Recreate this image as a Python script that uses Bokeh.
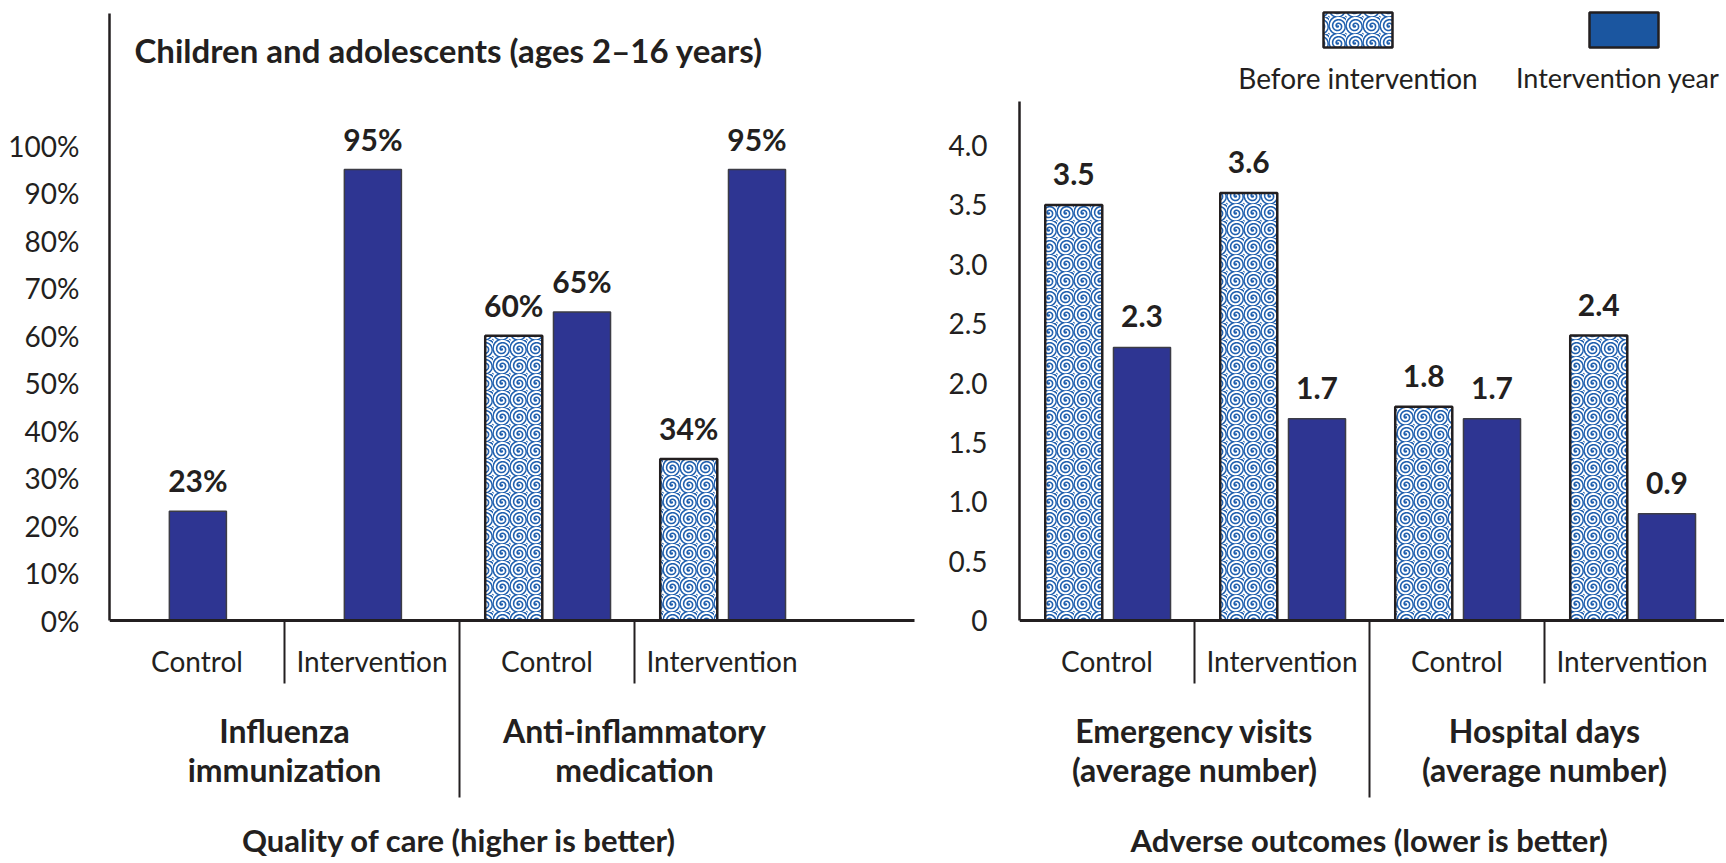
from bokeh.plotting import figure
from bokeh.models import ColumnDataSource, FixedTicker, Range1d, CustomJSTickFormatter
from bokeh.layouts import row
from bokeh.embed import file_html
from bokeh.resources import INLINE
from bokeh.core.properties import value

# ------------------------------------------------------------------ data
arms = ["Control", "Intervention"]
legend_labels = ["Before intervention", "Intervention year"]

left_title = "Children and adolescents (ages 2–16 years)"
left_footer = "Quality of care (higher is better)"
left_groups = ["Influenza\nimmunization", "Anti-inflammatory\nmedication"]
left_before = [None, None, 60, 34]
left_year = [23, 95, 65, 95]
left_ticks = [0, 10, 20, 30, 40, 50, 60, 70, 80, 90, 100]

right_footer = "Adverse outcomes (lower is better)"
right_groups = ["Emergency visits\n(average number)", "Hospital days\n(average number)"]
right_before = [3.5, 3.6, 1.8, 2.4]
right_year = [2.3, 1.7, 1.7, 0.9]
right_ticks = [0, 0.5, 1.0, 1.5, 2.0, 2.5, 3.0, 3.5, 4.0]

# ------------------------------------------------------------------ style
FONT = "Lato"
INK = "#231f20"
NAVY = "#2e3592"
SPECKLE = "#1f5fae"
KEY_BLUE = "#1b56a0"

H = 860          # canvas height
BASE = 620       # baseline position, px from canvas top
SLOT = 175       # px per sub-category slot
BAR_W = 0.326
DODGE = 0.195


def speckle(kw):
    kw.update(fill_color="white", hatch_pattern="spiral", hatch_color=SPECKLE,
              hatch_scale=17, hatch_weight=1.6, line_color=INK, line_width=2.5)
    return kw


def panel(width, border_left, ppu, axis_top, ticks, fmt_code, standoff,
          before, year, label_fmt, groups, footer, base_end_px):
    x_end = (width - border_left) / SLOT
    p = figure(width=width, height=H,
               x_range=Range1d(0, x_end),
               y_range=Range1d(-(H - BASE) / ppu, BASE / ppu),
               output_backend="svg", toolbar_location=None, x_axis_location=None,
               min_border_left=border_left, min_border_right=0,
               min_border_top=0, min_border_bottom=0)
    p.grid.visible = False
    p.outline_line_color = None
    p.background_fill_color = "white"
    p.border_fill_color = "white"

    ax = p.yaxis[0]
    ax.ticker = FixedTicker(ticks=ticks)
    ax.formatter = CustomJSTickFormatter(code=fmt_code)
    ax.bounds = (0, axis_top)
    ax.axis_line_color = INK
    ax.axis_line_width = 2.5
    ax.major_tick_line_color = None
    ax.minor_tick_line_color = None
    ax.major_label_standoff = standoff
    ax.major_label_text_font = FONT
    ax.major_label_text_font_size = "28px"
    ax.major_label_text_color = INK

    n = len(year)
    bx, bt, bl, yx, yt, yl = [], [], [], [], [], []
    for i in range(n):
        c = i + 0.505
        if before[i] is None:
            yx.append(c)
        else:
            bx.append(c - DODGE)
            bt.append(before[i])
            bl.append(label_fmt(before[i]))
            yx.append(c + DODGE)
        yt.append(year[i])
        yl.append(label_fmt(year[i]))

    lift = 31 / ppu
    bsrc = ColumnDataSource(dict(x=bx, top=bt, label=bl, ly=[t + lift for t in bt]))
    ysrc = ColumnDataSource(dict(x=yx, top=yt, label=yl, ly=[t + lift for t in yt]))

    p.vbar(x="x", top="top", bottom=0, width=BAR_W, source=bsrc, **speckle({}))
    p.vbar(x="x", top="top", bottom=0, width=BAR_W, source=ysrc,
           fill_color=NAVY, line_color="#3c3c46", line_width=1.5)

    lab_kw = dict(text_font=value(FONT), text_font_style="bold", text_font_size="30px",
                  text_color=INK, text_align="center", text_baseline="middle")
    p.text(x="x", y="ly", text="label", source=bsrc, **lab_kw)
    p.text(x="x", y="ly", text="label", source=ysrc, **lab_kw)

    # baseline
    p.segment(x0=[0], y0=[0], x1=[base_end_px / SLOT], y1=[0], line_color=INK, line_width=3)

    # separators between sub-categories and groups
    p.segment(x0=[1, 2, 3], x1=[1, 2, 3], y0=[0, 0, 0],
              y1=[-63 / ppu, -177 / ppu, -63 / ppu], line_color=INK, line_width=2)

    # sub-category labels
    p.text(x=[i + 0.5 for i in range(n)], y=[-40 / ppu] * n, text=arms * (n // 2),
           text_font=value(FONT), text_font_size="28px", text_color=INK,
           text_align="center", text_baseline="middle")

    # group labels
    p.text(x=[1, 3], y=[-129 / ppu] * 2, text=groups,
           text_font=value(FONT), text_font_style="bold", text_font_size="32px",
           text_color=INK, text_align="center", text_baseline="middle",
           text_line_height=1.0)

    # footer
    p.text(x=[2], y=[-219 / ppu], text=[footer],
           text_font=value(FONT), text_font_style="bold", text_font_size="31px",
           text_color=INK, text_align="center", text_baseline="middle")
    return p


PPU_L = 4.747
left = panel(938, 109, PPU_L, 127.9, left_ticks, "return tick + '%';", 24,
             left_before, left_year, lambda v: f"{v:g}%", left_groups, left_footer, 805)
left.text(x=[25 / SLOT], y=[(BASE - 49.5) / PPU_L], text=[left_title],
          text_font=value(FONT), text_font_style="bold", text_font_size="33px",
          text_color=INK, text_align="left", text_baseline="middle")

PPU_R = 118.75
RIGHT_W, RIGHT_BL = 786, 81
right = panel(RIGHT_W, RIGHT_BL, PPU_R, 4.37, right_ticks,
              "return tick == 0 ? '0' : tick.toFixed(1);", 26,
              right_before, right_year, lambda v: f"{v:.1f}", right_groups, right_footer, 760)

# legend key (custom, as in the original)
key_y = (BASE - 29.5) / PPU_R
key_h = 35 / PPU_R
key_w = 69 / SLOT
right.rect(x=[338.5 / SLOT], y=[key_y], width=key_w, height=key_h, **speckle({}))
right.rect(x=[604.5 / SLOT], y=[key_y], width=key_w, height=key_h,
           fill_color=KEY_BLUE, line_color=INK, line_width=2.5)
ty = (BASE - 77) / PPU_R
right.text(x=[338.5 / SLOT], y=[ty], text=[legend_labels[0]],
           text_font=value(FONT), text_font_size="28px", text_color=INK,
           text_align="center", text_baseline="middle")
right.text(x=[(RIGHT_W - RIGHT_BL - 5) / SLOT], y=[ty], text=[legend_labels[1]],
           text_font=value(FONT), text_font_size="27px", text_color=INK,
           text_align="right", text_baseline="middle")

layout = row(left, right)
open("out.html", "w").write(file_html(layout, INLINE))
